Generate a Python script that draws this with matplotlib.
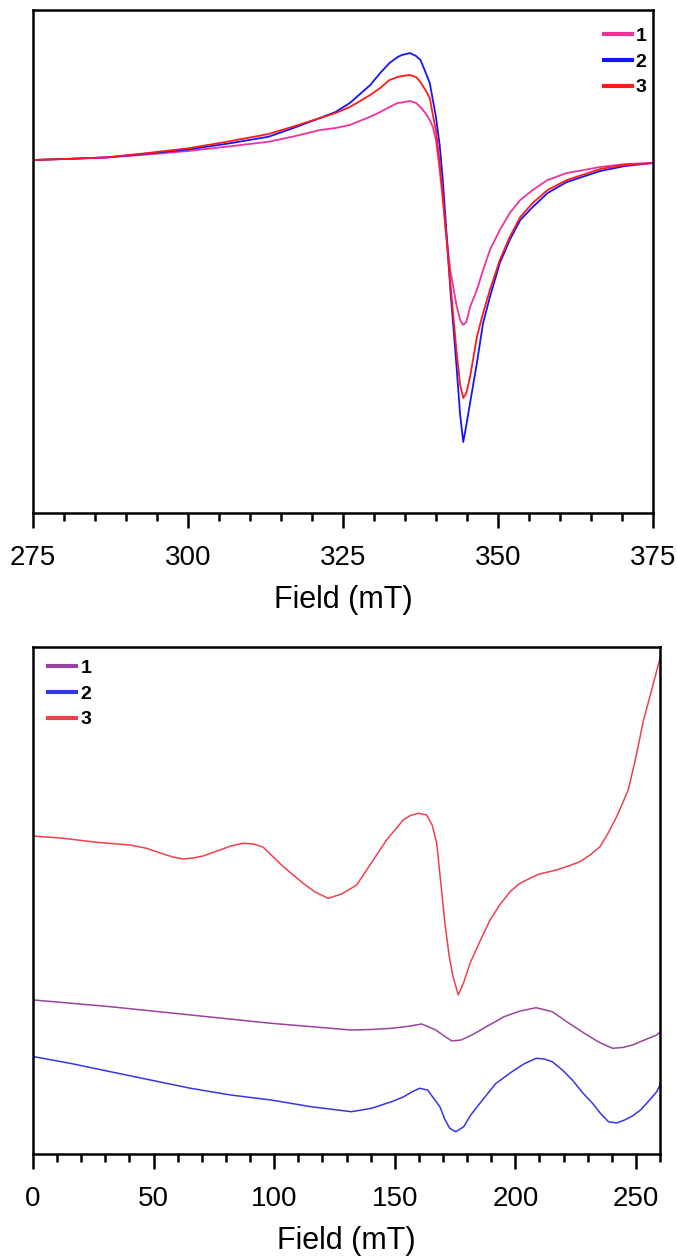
import matplotlib
matplotlib.use('Agg')
import matplotlib.pyplot as plt
from matplotlib.ticker import MultipleLocator

plt.rcParams['font.family'] = ['Liberation Sans', 'DejaVu Sans']

# Top panel: field (mT) and signal (a.u.)
field_top = [275, 281, 287, 293.5, 300, 306.5, 313, 317, 321.3, 323.8, 326.1, 329.4, 331,
             332.5, 333.8, 334.5, 335.8, 336.8, 337.5, 338.3, 339.0, 339.5, 340.0, 340.6,
             341.1, 341.5, 342.3, 343.3, 343.9, 344.4, 344.9, 345.5, 346.6, 347.6, 348.7,
             350.3, 351.9, 353.6, 355.6, 358, 361.1, 366.5, 370.5, 375]
top_1 = [0, 1.2, 2.5, 5.5, 9, 13.5, 18.3, 23.5, 30, 32, 35, 43.3, 48,
         53, 57, 57.5, 59, 57, 53, 47, 40, 33, 20, -10,
         -40, -65, -110, -145, -160, -165, -162, -147, -130, -110, -90,
         -70, -53, -40, -30, -20, -13, -7, -4, -3]
top_2 = [0, 1.2, 2.7, 6.5, 10.5, 16.5, 23.3, 32, 42, 48, 57, 75, 87,
         97, 103, 105, 107, 104, 100, 88, 77, 60, 43, 15,
         -20, -55, -128, -205, -255, -282, -265, -243, -203, -163, -137,
         -103, -80, -60, -47, -33, -22, -11, -6, -3]
top_3 = [0, 1.2, 2.7, 7, 11.7, 18.5, 26, 33.5, 42, 47, 53, 65, 72,
         80, 83, 84, 85, 83, 78, 70, 62, 45, 30, -3,
         -35, -65, -122, -190, -225, -238, -233, -217, -177, -153, -130,
         -100, -77, -57, -43, -30, -20, -9, -5, -3]

# Bottom panel
field_b3 = [0, 12.6, 26.4, 40.2, 47.1, 54, 58, 62.3, 66.5, 70.6, 77.5, 82, 87.2, 91.5, 95.5,
            103.8, 112, 117, 122.4, 128, 134.2, 146.6, 153.5, 156.5, 159.8, 163.2, 165.5,
            167.4, 170.8, 172.5, 174, 176.3, 178.5, 181.2, 185, 189.5, 193.5, 197.8, 201.5,
            206, 210, 217.1, 222, 226.8, 231, 235.1, 238.5, 242, 244.5, 246.8, 250, 253,
            256.5, 260]
bot_3 = [318, 315.7, 311.7, 309, 305.7, 300, 297, 295, 296, 298, 304, 308, 310.7, 310, 306.7,
         287.3, 270.7, 262, 255.7, 260, 269, 314, 334, 338.5, 340.7, 339, 329,
         310.7, 230.7, 199, 179, 159, 171, 190.7, 211, 234, 249, 262.3, 270,
         275.7, 280, 284, 288, 292.3, 299, 307.3, 321, 337.3, 351, 364, 397, 432.4,
         464, 496]

field_b1 = [0.4, 32.1, 65.4, 98.7, 132, 140, 148.7, 155, 161.2, 167, 170.5, 173.7, 177.5,
            182, 188.5, 195.3, 202, 208.6, 215.3, 221.5, 228.6, 234.5, 240.3, 244.5, 248.6,
            253.5, 258.6, 260]
bot_1 = [154, 147.3, 139, 130.7, 124, 124.5, 125.7, 127.5, 130, 124, 118, 113, 114,
         119, 128, 137.3, 143, 146.3, 142.3, 132, 120.7, 112, 105.7, 106.5, 109,
         114, 119, 122]

field_b2 = [0.4, 15.4, 32.1, 48.7, 65.4, 82, 98.7, 115.3, 132, 140.3, 148.7, 153.5, 157,
            160.3, 163.6, 168.7, 170.7, 172.8, 175.3, 178.6, 181.5, 185.3, 188.7, 192,
            198.6, 203.5, 208.6, 212, 215.3, 219.5, 223.6, 228, 232, 235.5, 238.6, 242,
            245.3, 248.5, 251.9, 255.3, 258.6, 260]
bot_2 = [97.3, 90.7, 82.3, 74, 65.7, 59, 54, 47.3, 42.3, 45.7, 52.3, 57, 62,
         65.7, 64, 47.3, 35, 25.7, 22.3, 27.3, 39, 50.7, 61, 70.7,
         82.3, 90, 95.7, 95, 92.3, 84, 74, 61, 50.7, 40, 32.3, 31,
         34, 38, 44, 53, 62.3, 69]

labels = ['1', '2', '3']

fig = plt.figure(figsize=(6.77, 12.56), dpi=100)
ax1 = fig.add_axes([0.0487, 0.5916, 0.9158, 0.4004])
ax2 = fig.add_axes([0.0487, 0.0812, 0.9263, 0.4037])

def style_axis(ax):
    for s in ax.spines.values():
        s.set_linewidth(1.8)
    ax.set_yticks([])
    ax.tick_params(axis='x', which='major', direction='out', length=11, width=1.8,
                   labelsize=20, pad=12)
    ax.tick_params(axis='x', which='minor', direction='out', length=5.5, width=1.8)
    ax.set_xlabel('Field (mT)', fontsize=22, labelpad=10)

# Top
ax1.plot(field_top, top_1, color='#f0329b', lw=1.3, label=labels[0])
ax1.plot(field_top, top_2, color='#1414ff', lw=1.3, label=labels[1])
ax1.plot(field_top, top_3, color='#ff1a1a', lw=1.3, label=labels[2])
ax1.set_xlim(275, 375)
ax1.set_ylim(-353, 150)
ax1.xaxis.set_major_locator(MultipleLocator(25))
ax1.xaxis.set_minor_locator(MultipleLocator(5))
style_axis(ax1)
leg1 = ax1.legend(loc='upper left', bbox_to_anchor=(0.905, 0.985), frameon=False,
                  borderpad=0, handlelength=1.45, handletextpad=0.2, labelspacing=0.42,
                  prop={'weight': 'bold', 'size': 14})
for ln in leg1.get_lines():
    ln.set_linewidth(3)

# Bottom
ax2.plot(field_b1, bot_1, color='#99449e', lw=1.1, label=labels[0])
ax2.plot(field_b2, bot_2, color='#3535e8', lw=1.1, label=labels[1])
ax2.plot(field_b3, bot_3, color='#f0404e', lw=1.1, label=labels[2])
ax2.set_xlim(0, 260)
ax2.set_ylim(0, 507)
ax2.xaxis.set_major_locator(MultipleLocator(50))
ax2.xaxis.set_minor_locator(MultipleLocator(10))
style_axis(ax2)
leg2 = ax2.legend(loc='upper left', bbox_to_anchor=(0.008, 0.995), frameon=False,
                  borderpad=0, handlelength=1.45, handletextpad=0.25, labelspacing=0.42,
                  prop={'weight': 'bold', 'size': 14})
for ln in leg2.get_lines():
    ln.set_linewidth(3)

plt.savefig('out.png', dpi=100)
